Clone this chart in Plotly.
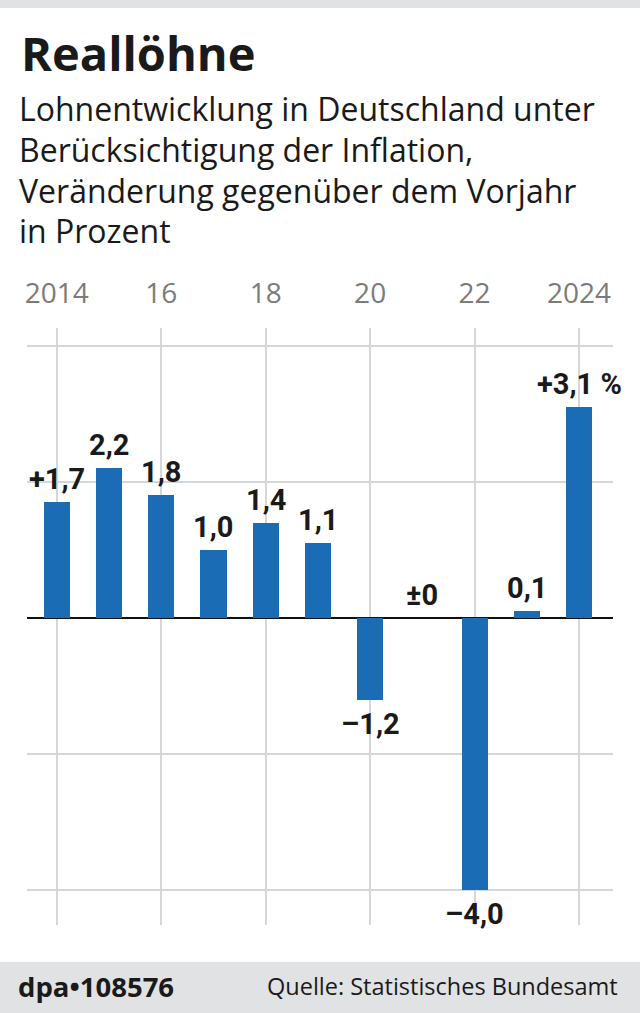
import plotly.graph_objects as go

years = [2014, 2015, 2016, 2017, 2018, 2019, 2020, 2021, 2022, 2023, 2024]
values = [1.7, 2.2, 1.8, 1.0, 1.4, 1.1, -1.2, 0.0, -4.0, 0.1, 3.1]
labels = ["+1,7", "2,2", "1,8", "1,0", "1,4", "1,1", "\u20131,2", "\u00b10", "\u20134,0", "0,1", "+3,1 %"]
tick_vals = [2014, 2016, 2018, 2020, 2022, 2024]
tick_text = ["2014", "16", "18", "20", "22", "2024"]

title = "Reallöhne"
subtitle_lines = [
    "Lohnentwicklung in Deutschland unter",
    "Berücksichtigung der Inflation,",
    "Veränderung gegenüber dem Vorjahr",
    "in Prozent",
]
source = "Quelle: Statistisches Bundesamt"
credit = "dpa\u2022108576"

W, H = 640, 1013
ML, MR, MT, MB = 27, 27, 328, 88
PW, PH = W - ML - MR, H - MT - MB

def px(x):
    return (x - ML) / PW

def py(y):
    return (H - MB - y) / PH

BAR = "#1a6db5"
GRID = "#d5d6da"
LABEL_FONT = "Roboto, sans-serif"
TEXT_FONT = "Open Sans, sans-serif"

fig = go.Figure()
fig.add_trace(go.Bar(x=years, y=values, width=0.5, marker=dict(color=BAR, line=dict(width=0)),
                     hoverinfo="skip"))

annotations = []
for yr, v, lab in zip(years, values, labels):
    annotations.append(dict(x=yr, y=v, xref="x", yref="y", text="<b>" + lab + "</b>", showarrow=False,
                            yanchor="middle", yshift=(-24 if v < 0 else 23),
                            font=dict(family=LABEL_FONT, size=29, color="#1a1a1a")))

annotations.append(dict(x=px(19), y=py(53), xref="paper", yref="paper", xanchor="left", yanchor="middle",
                        text="<b>" + title + "</b>", showarrow=False,
                        font=dict(family=TEXT_FONT, size=47, color="#1a1a1a")))
for i, line in enumerate(subtitle_lines):
    annotations.append(dict(x=px(17), y=py(108 + i * 41), xref="paper", yref="paper", xanchor="left",
                            yanchor="middle", text=line, showarrow=False,
                            font=dict(family=TEXT_FONT, size=32, color="#1a1a1a")))
annotations.append(dict(x=px(16), y=py(986), xref="paper", yref="paper", xanchor="left", yanchor="middle",
                        text="<b>" + credit + "</b>", showarrow=False,
                        font=dict(family=TEXT_FONT, size=27.5, color="#1a1a1a")))
annotations.append(dict(x=px(620), y=py(986), xref="paper", yref="paper", xanchor="right", yanchor="middle",
                        text=source, showarrow=False,
                        font=dict(family=TEXT_FONT, size=23.5, color="#1a1a1a")))

shapes = [
    dict(type="rect", xref="paper", yref="paper", x0=px(0), x1=px(W), y0=py(0), y1=py(8),
         fillcolor="#e1e2e4", line=dict(width=0), layer="below"),
    dict(type="rect", xref="paper", yref="paper", x0=px(0), x1=px(W), y0=py(962), y1=py(H),
         fillcolor="#e1e2e4", line=dict(width=0), layer="below"),
]

fig.update_layout(
    width=W, height=H, margin=dict(l=ML, r=MR, t=MT, b=MB),
    paper_bgcolor="white", plot_bgcolor="white", showlegend=False,
    annotations=annotations, shapes=shapes, bargap=0,
    xaxis=dict(range=[2013.43, 2024.65], side="top", tickvals=tick_vals, ticktext=tick_text,
               showgrid=True, gridcolor=GRID, gridwidth=1.5, zeroline=False, showline=False,
               ticks="", ticklabelstandoff=18,
               tickfont=dict(family=TEXT_FONT, size=28, color="#7b7b7b")),
    yaxis=dict(range=[-4.51, 4.26], tickvals=[-4, -2, 0, 2, 4], showticklabels=False,
               showgrid=True, gridcolor=GRID, gridwidth=1.5, zeroline=True, zerolinecolor="#111111",
               zerolinewidth=1.5, showline=False),
)

fig.write_html("out.html", config={"displayModeBar": False},
               post_script="document.body.style.margin='0';")
